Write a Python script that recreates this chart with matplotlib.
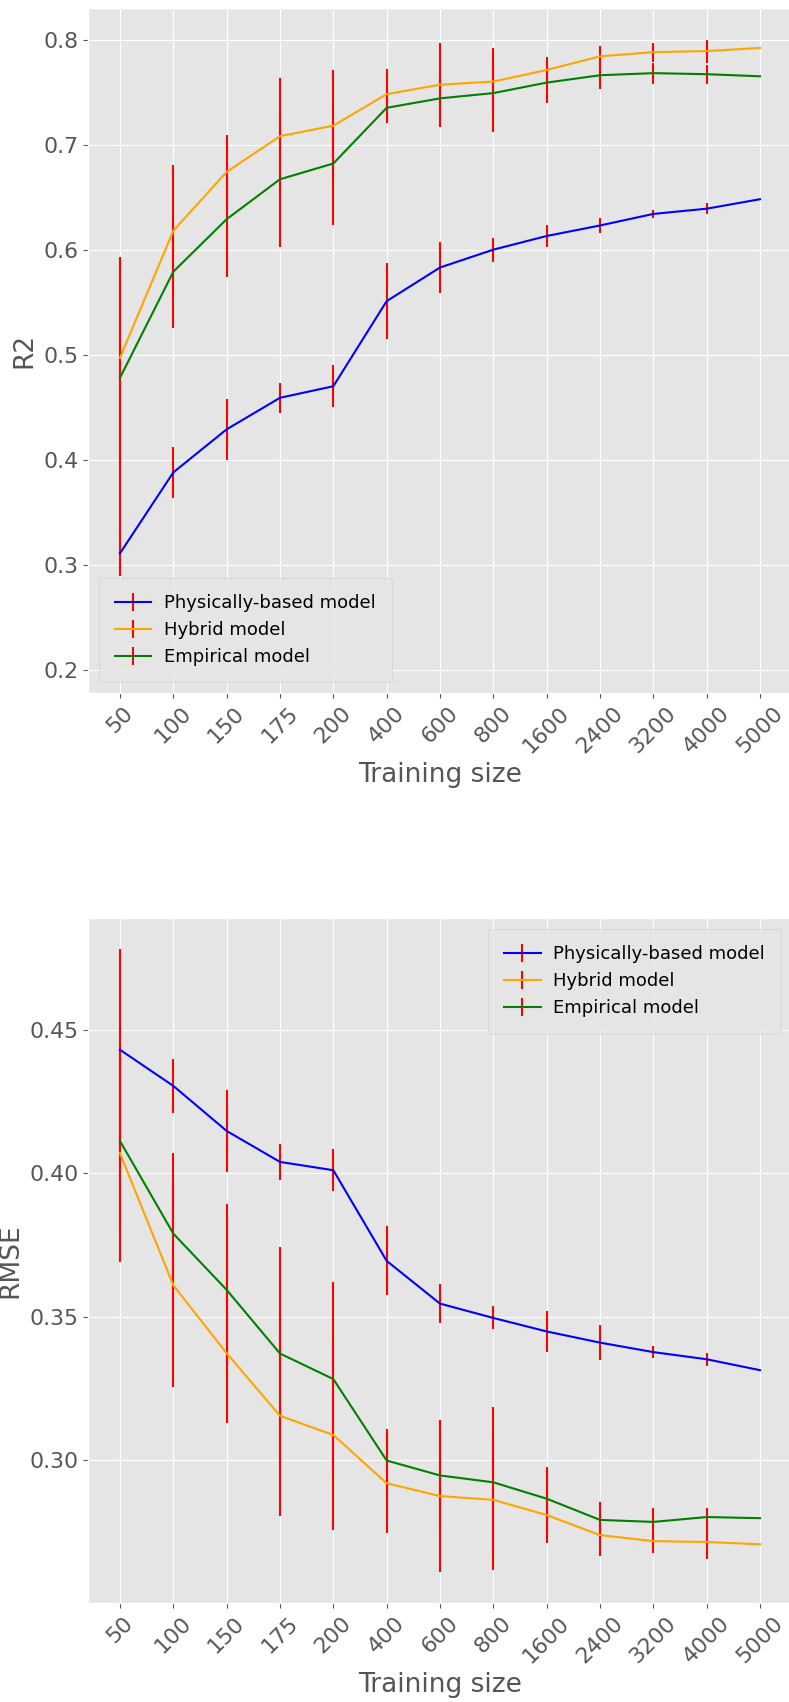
import matplotlib.pyplot as plt
import numpy as np

plt.style.use('ggplot')

sizes = ['50', '100', '150', '175', '200', '400', '600', '800',
         '1600', '2400', '3200', '4000', '5000']
labels = ['Physically-based model', 'Hybrid model', 'Empirical model']
colors = ['blue', 'orange', 'green']

# R2 scores (mean and spread over repeated runs)
r2_phys = [0.311, 0.388, 0.429, 0.459, 0.470, 0.551, 0.583, 0.600,
           0.613, 0.623, 0.634, 0.639, 0.648]
r2_phys_err = [0.022, 0.024, 0.029, 0.0145, 0.020, 0.036, 0.024, 0.0115,
               0.010, 0.0075, 0.0035, 0.005, 0.0]
r2_hyb = [0.497, 0.618, 0.674, 0.708, 0.718, 0.748, 0.757, 0.760,
          0.771, 0.784, 0.788, 0.789, 0.792]
r2_hyb_err = [0.096, 0.063, 0.035, 0.055, 0.053, 0.024, 0.040, 0.032,
              0.012, 0.010, 0.009, 0.011, 0.0]
r2_emp = [0.478, 0.579, 0.629, 0.667, 0.682, 0.735, 0.744, 0.749,
          0.759, 0.766, 0.768, 0.767, 0.765]
r2_emp_err_lo = [0.150, 0.054, 0.055, 0.064, 0.059, 0.014, 0.020, 0.037,
                 0.019, 0.013, 0.010, 0.009, 0.0]
r2_emp_err_hi = [0.110, 0.054, 0.055, 0.064, 0.059, 0.014, 0.020, 0.037,
                 0.019, 0.013, 0.010, 0.009, 0.0]

# RMSE
rmse_phys = [0.443, 0.4304, 0.4147, 0.4039, 0.401, 0.3694, 0.3545, 0.3495,
             0.3448, 0.3409, 0.3376, 0.3351, 0.3313]
rmse_phys_err = [0.035, 0.0095, 0.0142, 0.0064, 0.0073, 0.012, 0.0068, 0.004,
                 0.007, 0.006, 0.002, 0.0023, 0.0]
rmse_hyb = [0.4069, 0.3609, 0.3372, 0.3154, 0.3087, 0.2919, 0.2874, 0.2861,
            0.2808, 0.2738, 0.2717, 0.2714, 0.2706]
rmse_hyb_err = [0.038, 0.0353, 0.0244, 0.035, 0.0332, 0.0174, 0.0264, 0.0245,
                0.0098, 0.0074, 0.004, 0.006, 0.0]
rmse_emp = [0.4112, 0.3789, 0.3593, 0.3371, 0.3282, 0.2998, 0.2946, 0.2922,
            0.2865, 0.2791, 0.2784, 0.2801, 0.2797]
rmse_emp_err = [0.030, 0.028, 0.030, 0.037, 0.034, 0.011, 0.019, 0.0263,
                0.011, 0.0063, 0.005, 0.003, 0.0]

fig = plt.figure(figsize=(7.89, 17.02), dpi=100)
ax1 = fig.add_axes([0.1115, 0.5928, 0.8923, 0.4025])
ax2 = fig.add_axes([0.1115, 0.0582, 0.8923, 0.4023])

x = np.arange(len(sizes))
leg_kw = dict(fontsize=13, borderpad=0.9, borderaxespad=0.6,
              handletextpad=0.7)

r2_series = [(r2_phys, r2_phys_err),
             (r2_hyb, r2_hyb_err),
             (r2_emp, [r2_emp_err_lo, r2_emp_err_hi])]
for (y, err), c, lab in zip(r2_series, colors, labels):
    ax1.errorbar(x, y, yerr=err, color=c, ecolor='red', lw=1.5,
                 elinewidth=1.5, label=lab)
ax1.set_ylim(0.178, 0.83)
ax1.set_ylabel('R2', fontsize=19)
ax1.legend(loc='lower left', **leg_kw)

rmse_series = [(rmse_phys, rmse_phys_err),
               (rmse_hyb, rmse_hyb_err),
               (rmse_emp, rmse_emp_err)]
for (y, err), c, lab in zip(rmse_series, colors, labels):
    ax2.errorbar(x, y, yerr=err, color=c, ecolor='red', lw=1.5,
                 elinewidth=1.5, label=lab)
ax2.set_ylabel('RMSE', fontsize=19)
ax2.legend(loc='upper right', **leg_kw)

for ax in (ax1, ax2):
    ax.set_xticks(x)
    ax.set_xticklabels(sizes, rotation=45)
    ax.set_xlim(-0.6, 12.6)
    ax.set_xlabel('Training size', fontsize=19)
    ax.tick_params(labelsize=15.8)

fig.savefig('out.png', dpi=100)
